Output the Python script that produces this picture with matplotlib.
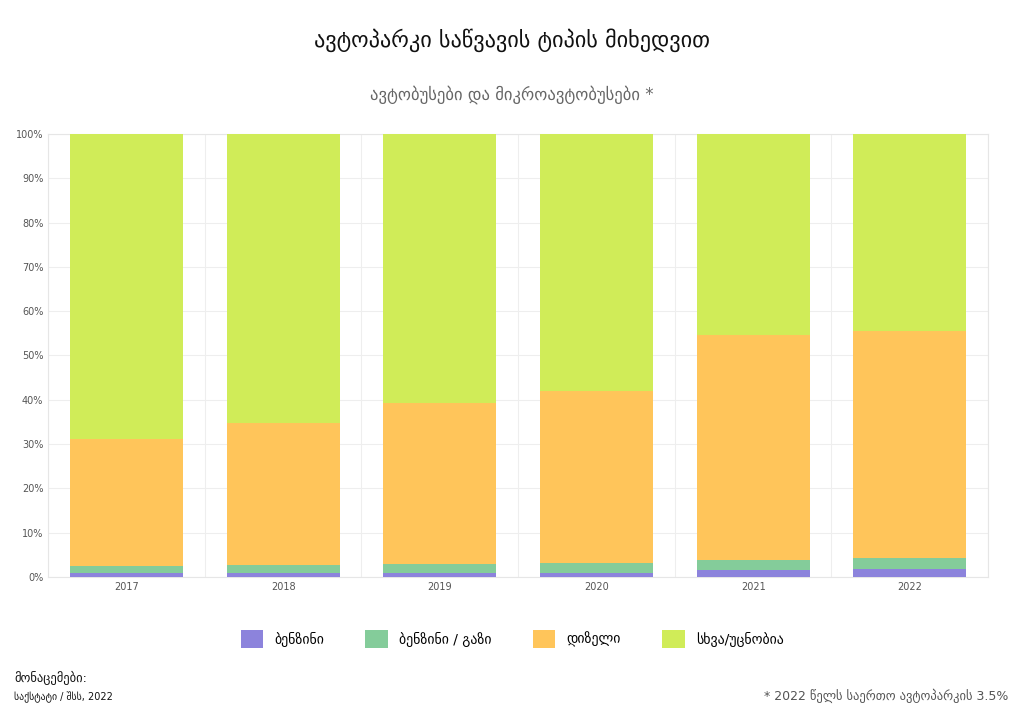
import numpy as np
import matplotlib.pyplot as plt

plt.rcParams['font.family'] = ['DejaVu Sans']

years = ['2017', '2018', '2019', '2020', '2021', '2022']
benzin = [0.9, 0.9, 0.9, 1.0, 1.6, 1.8]
benzin_gas = [1.6, 1.9, 2.0, 2.1, 2.3, 2.5]
diesel = [28.6, 31.9, 36.3, 38.8, 50.7, 51.3]
other = [100 - a - b - c for a, b, c in zip(benzin, benzin_gas, diesel)]

series = [benzin, benzin_gas, diesel, other]
labels = ['ბენზინი', 'ბენზინი / გაზი', 'დიზელი', 'სხვა/უცნობია']
colors = ['#8c83dc', '#84cc9a', '#ffc55a', '#d0ec58']

fig = plt.figure(figsize=(10.24, 7.24), dpi=100)
ax = fig.add_axes([0.047, 0.203, 0.918, 0.612])

x = np.arange(len(years))
bottom = np.zeros(len(years))
for vals, lab, col in zip(series, labels, colors):
    ax.bar(x, vals, bottom=bottom, width=0.72, color=col, label=lab, zorder=3)
    bottom += np.array(vals)

ax.set_xlim(-0.5, len(years) - 0.5)
ax.set_ylim(0, 100)
ax.set_xticks(x)
ax.set_xticklabels(years, fontsize=7, color='#555555')
ax.set_yticks(np.arange(0, 101, 10))
ax.set_yticklabels([f'{v}%' for v in range(0, 101, 10)], fontsize=7, color='#555555')
ax.set_xticks(np.arange(-0.5, len(years)), minor=True)
ax.grid(True, which='minor', axis='x', color='#eeeeee', zorder=0)
ax.grid(True, which='major', axis='y', color='#eeeeee', zorder=0)
ax.tick_params(which='both', length=0)
for s in ax.spines.values():
    s.set_color('#e6e6e6')

fig.text(0.5, 0.935, 'ავტოპარკი საწვავის ტიპის მიხედვით', ha='center', fontsize=16, color='#111111')
fig.text(0.5, 0.862, 'ავტობუსები და მიკროავტობუსები *', ha='center', fontsize=12, color='#666666')

fig.legend(loc='center', bbox_to_anchor=(0.5, 0.117), ncol=4, frameon=False,
           fontsize=10, handlelength=1.6, handleheight=1.6, columnspacing=3)

fig.text(0.014, 0.058, 'მონაცემები:', fontsize=9, color='#111111')
fig.text(0.014, 0.033, 'საქსტატი / შსს, 2022', fontsize=7, color='#111111')
fig.text(0.985, 0.033, '* 2022 წელს საერთო ავტოპარკის 3.5%', fontsize=9, color='#555555', ha='right')

fig.savefig('out.png')
